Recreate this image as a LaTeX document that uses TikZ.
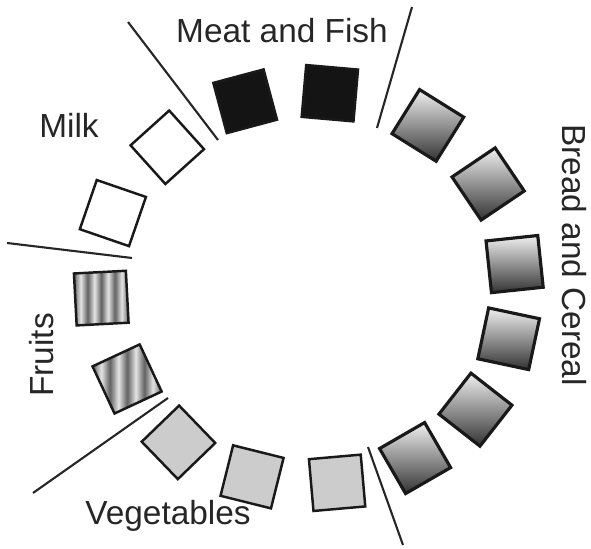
\documentclass[tikz,border=0pt]{standalone}
\usepackage{fontspec}
\setmainfont{Liberation Sans}
\usetikzlibrary{calc}
\pgfdeclarehorizontalshading{fruitstripes}{100bp}{color(0bp)=(black!62); color(25bp)=(black!62); color(31.25bp)=(black!10); color(37.5bp)=(black!62); color(43.75bp)=(black!10); color(50bp)=(black!62); color(56.25bp)=(black!10); color(62.5bp)=(black!62); color(68.75bp)=(black!10); color(75bp)=(black!62); color(100bp)=(black!62)}
\tikzset{
    foodbox/.style={
        rectangle,
        draw=black!90,
        line width=1.4pt,
        minimum size=1.04cm,
        inner sep=0pt
    },
    milkbox/.style={foodbox, fill=white},
    meatbox/.style={foodbox, fill=black!92},
    breadbox/.style={foodbox, line width=1.8pt, top color=black!6, bottom color=black!80},
    fruitbox/.style={foodbox, shade, shading=fruitstripes},
    vegbox/.style={foodbox, fill=black!20},
    grouplabel/.style={
        font=\fontsize{19}{23}\selectfont,
        text=black!85,
        inner sep=0pt,
        anchor=base % baseline sits where the reference text sits
    },
    divider/.style={draw=black!85, line width=1.2pt}
}

\begin{document}
\begin{tikzpicture}
    \useasboundingbox (0,0) rectangle (11.82,10.98);

    % ring of food squares round the hub
    \coordinate (hub) at (6.16,5.22);
    \begin{scope}[shift={(hub)}]
        \node (meat1) [meatbox, rotate=105] at (108.6:3.94) {};
        \node (meat2) [meatbox, rotate=85] at (83.6:3.92) {};
        \node (bread1) [breadbox, rotate=58] at (53.6:4.04) {};
        \node (bread2) [breadbox, rotate=34] at (30:4.16) {};
        \node (bread3) [breadbox, rotate=6] at (6.6:4.16) {};
        \node (bread4) [breadbox, rotate=-12] at (-14.2:4.14) {};
        \node (bread5) [breadbox, rotate=-38] at (-36:4.14) {};
        \node (bread6) [breadbox, rotate=-60] at (-57.8:4.02) {};
        \node (veg3) [vegbox, rotate=-85] at (-81.5:3.94) {};
        \node (veg2) [vegbox, rotate=-104] at (-106.5:3.94) {};
        \node (veg1) [vegbox, rotate=-136] at (-130:4.03) {};
        \node (fruit2) [fruitbox, rotate=205] at (206.7:4.05) {};
        \node (fruit1) [fruitbox, rotate=183] at (182.8:4.14) {};
        \node (milk2) [milkbox, rotate=161] at (159:4.18) {};
        \node (milk1) [milkbox, rotate=132] at (135:3.98) {};
    \end{scope}

    % group dividers
    \coordinate (cut1a) at (2.56,10.54);
    \coordinate (cut1b) at (4.36,8.18);
    \coordinate (cut2a) at (8.24,10.84);
    \coordinate (cut2b) at (7.54,8.42);
    \coordinate (cut3a) at (0.14,6.12);
    \coordinate (cut3b) at (2.64,5.82);
    \coordinate (cut4a) at (3.36,3.02);
    \coordinate (cut4b) at (0.66,1.12);
    \coordinate (cut5a) at (7.36,2.04);
    \coordinate (cut5b) at (8.06,0.08);
    \draw [divider] (cut1a) -- (cut1b);
    \draw [divider] (cut2a) -- (cut2b);
    \draw [divider] (cut3a) -- (cut3b);
    \draw [divider] (cut4a) -- (cut4b);
    \draw [divider] (cut5a) -- (cut5b);

    \node (meatlabel) [grouplabel] at (5.64,10.12) {Meat and Fish};
    \node (milklabel) [grouplabel] at (1.38,8.22) {Milk};
    \node (breadlabel) [grouplabel, rotate=-90] at (11.26,5.88) {Bread and Cereal};
    \node (fruitlabel) [grouplabel, rotate=90] at (1.06,3.88) {Fruits};
    \node (veglabel) [grouplabel] at (3.36,0.48) {Vegetables};
\end{tikzpicture}
\end{document}
